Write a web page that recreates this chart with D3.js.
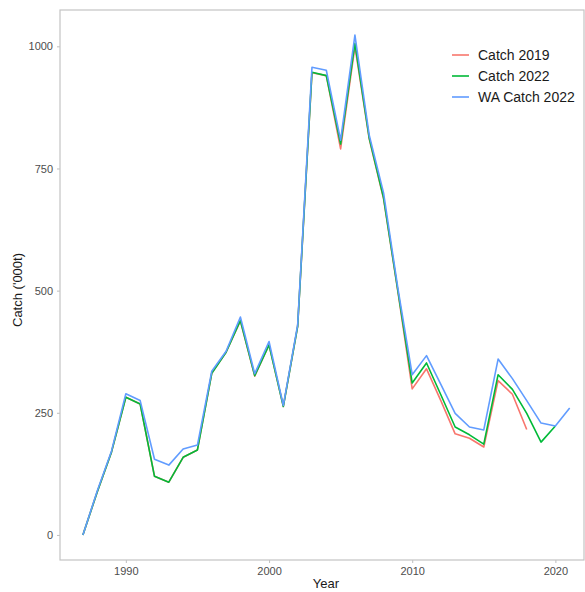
<!DOCTYPE html>
<html>
<head>
<meta charset="utf-8">
<script src="https://cdn.jsdelivr.net/npm/d3@7/dist/d3.min.js"></script>
<style>
  html, body { margin: 0; padding: 0; background: #fff; }
  svg { display: block; font-family: "Liberation Sans", Arial, sans-serif; }
</style>
</head>
<body>
<svg id="chart" width="585" height="592"></svg>
<script>
// Annual catch ('000 t) by year for three catch series
const years = d3.range(1987, 2022);

const catch2019 = [0, 88, 170, 282, 268, 120, 108, 159, 174, 331, 374, 438, 325, 389, 263, 427,
  946, 940, 790, 1000, 810, 688, 498, 299, 340, 275, 207, 198, 180, 316, 288, 216];

const catch2022 = [0, 88, 170, 282, 268, 120, 108, 159, 174, 331, 374, 439, 326, 389, 263, 427,
  947, 940, 800, 1006, 812, 690, 500, 311, 352, 287, 221, 205, 186, 328, 298, 249, 190, 223];

const waCatch2022 = [0, 90, 172, 289, 275, 155, 143, 176, 184, 335, 376, 446, 330, 396, 265, 430,
  957, 951, 808, 1023, 818, 700, 505, 328, 367, 308, 249, 221, 215, 360, 320, 275, 229, 223, 260];

const seriesNames = ["Catch 2019", "Catch 2022", "WA Catch 2022"];
const seriesValues = [catch2019, catch2022, waCatch2022];
const seriesColors = ["#F8766D", "#00BA38", "#619CFF"];

const xTicks = [1990, 2000, 2010, 2020];
const yTicks = [0, 250, 500, 750, 1000];

const svg = d3.select("#chart");
const panel = { left: 60, right: 584, top: 10, bottom: 560 };

const x = d3.scaleLinear().domain([1985.4, 2022.0]).range([panel.left, panel.right]);
const y = d3.scaleLinear().domain([-51.2, 1074.3]).range([panel.bottom, panel.top]);

// panel frame
svg.append("rect")
  .attr("x", panel.left).attr("y", panel.top)
  .attr("width", panel.right - panel.left).attr("height", panel.bottom - panel.top)
  .attr("fill", "none").attr("stroke", "#c4c4c4").attr("stroke-width", 1.2);

// axes
const xAxis = svg.append("g")
  .attr("transform", `translate(0,${panel.bottom})`)
  .call(d3.axisBottom(x).tickValues(xTicks).tickFormat(d3.format("d")).tickSize(3).tickPadding(4));
const yAxis = svg.append("g")
  .attr("transform", `translate(${panel.left},0)`)
  .call(d3.axisLeft(y).tickValues(yTicks).tickFormat(d3.format("d")).tickSize(3).tickPadding(4));

[xAxis, yAxis].forEach(g => {
  g.select(".domain").remove();
  g.selectAll(".tick line").attr("stroke", "#c4c4c4").attr("stroke-width", 1.1);
  g.selectAll(".tick text").attr("fill", "#4d4d4d").style("font-size", "11px");
});

// axis titles
svg.append("text")
  .attr("x", 326).attr("y", 588)
  .attr("text-anchor", "middle").attr("fill", "#1a1a1a").style("font-size", "13px")
  .text("Year");
svg.append("text")
  .attr("transform", `translate(22,${(panel.top + panel.bottom) / 2 + 5}) rotate(-90)`)
  .attr("text-anchor", "middle").attr("fill", "#1a1a1a").style("font-size", "13px")
  .text("Catch ('000t)");

// lines
const line = d3.line()
  .x((d, i) => x(years[i]))
  .y(d => y(d));

seriesValues.forEach((vals, k) => {
  svg.append("path")
    .datum(vals)
    .attr("fill", "none")
    .attr("stroke", seriesColors[k])
    .attr("stroke-width", 1.6)
    .attr("stroke-linejoin", "round")
    .attr("d", line);
});

// legend
const legend = svg.append("g").attr("transform", "translate(452,55)");
seriesNames.forEach((name, k) => {
  const row = legend.append("g").attr("transform", `translate(0,${k * 21})`);
  row.append("line")
    .attr("x1", 0).attr("x2", 17).attr("y1", 0).attr("y2", 0)
    .attr("stroke", seriesColors[k]).attr("stroke-width", 1.6);
  row.append("text")
    .attr("x", 26).attr("y", 5)
    .attr("fill", "#1a1a1a").style("font-size", "14px")
    .text(name);
});
</script>
</body>
</html>
